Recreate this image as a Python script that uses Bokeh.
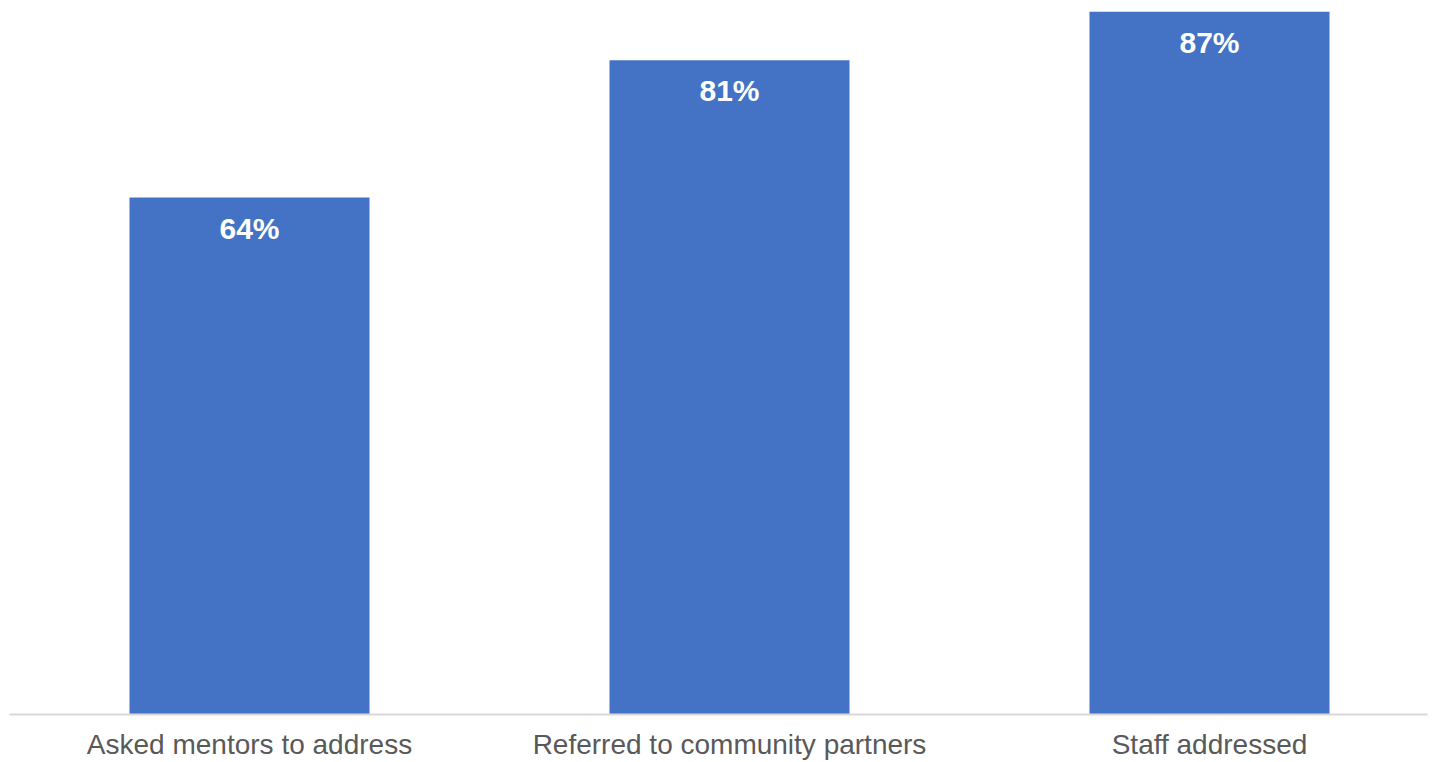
from bokeh.plotting import figure
from bokeh.models import ColumnDataSource, FixedTicker, Range1d
from bokeh.core.properties import value
from bokeh.embed import file_html
from bokeh.resources import INLINE

categories = ["Asked mentors to address", "Referred to community partners", "Staff addressed"]
values = [64, 81, 87]
value_labels = ["64%", "81%", "87%"]

xs = list(range(len(categories)))
src = ColumnDataSource(dict(x=xs, top=values, lab=value_labels))

p = figure(width=1436, height=762, output_backend="svg", toolbar_location=None,
           x_range=Range1d(-0.5, -0.5 + 1427 / 480), y_range=Range1d(0, 88.4),
           min_border_left=9, min_border_right=0, min_border_top=0, min_border_bottom=0)
p.background_fill_color = "white"
p.border_fill_color = "white"
p.outline_line_color = None
p.grid.visible = False
p.yaxis.visible = False

p.vbar(x="x", top="top", bottom=0, width=0.5, source=src, fill_color="#4472C4", line_color=None)

p.text(x="x", y="top", text="lab", source=src, text_align="center", text_baseline="top",
       y_offset=14, text_color="white", text_font=value("Liberation Sans"),
       text_font_style="bold", text_font_size="30px")

ax = p.xaxis[0]
ax.ticker = FixedTicker(ticks=xs)
ax.major_label_overrides = {i: c for i, c in enumerate(categories)}
ax.major_tick_line_color = None
ax.minor_tick_line_color = None
ax.major_tick_in = 0
ax.major_tick_out = 0
ax.axis_line_color = "#D9D9D9"
ax.axis_line_width = 2
ax.bounds = (-0.5, -0.5 + 1418 / 480)
ax.major_label_text_font = "Liberation Sans"
ax.major_label_text_font_size = "28px"
ax.major_label_text_color = "#595959"
ax.major_label_standoff = 14

open("out.html", "w").write(file_html(p, INLINE))
